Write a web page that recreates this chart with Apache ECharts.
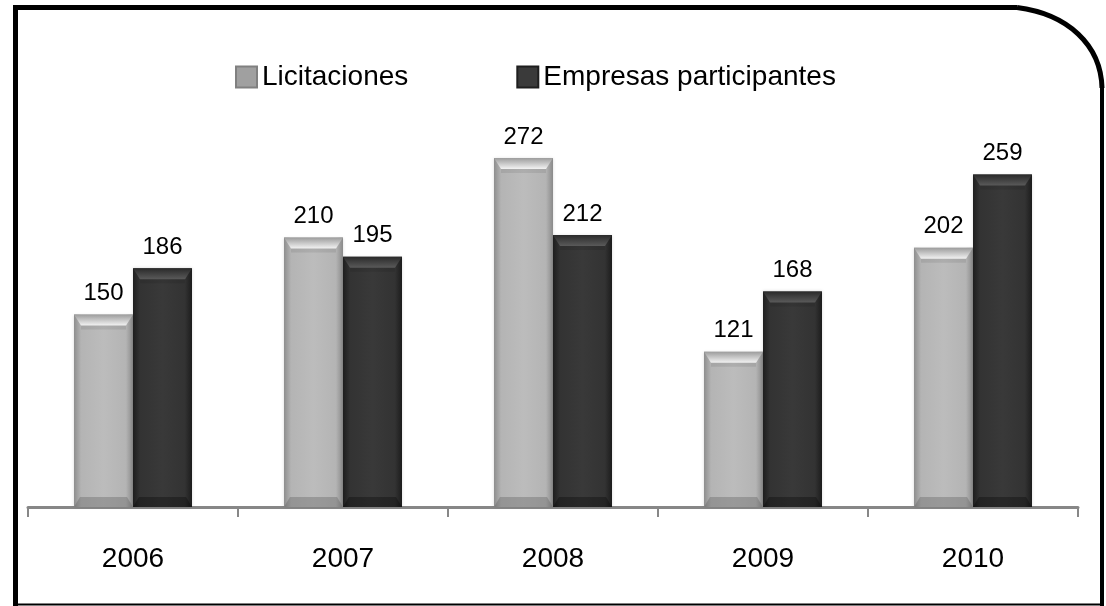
<!DOCTYPE html>
<html>
<head>
<meta charset="utf-8">
<script src="https://cdn.jsdelivr.net/npm/echarts@6/dist/echarts.min.js"></script>
<style>html,body{margin:0;padding:0;background:#fff}#c{width:1106px;height:606px}</style>
</head>
<body>
<div id="c"></div>
<script>
const categories = ['2006', '2007', '2008', '2009', '2010'];
const seriesNames = ['Licitaciones', 'Empresas participantes'];
const licitaciones = [150, 210, 272, 121, 202];
const empresas = [186, 195, 212, 168, 259];

const BAR_W = 59;
const FONT = '"Liberation Sans", Arial, sans-serif';

const lightGrad = new echarts.graphic.LinearGradient(0, 0, 1, 0, [
  {offset: 0, color: '#8e8e8e'}, {offset: 0.12, color: '#b4b4b4'},
  {offset: 0.5, color: '#bcbcbc'}, {offset: 0.88, color: '#b4b4b4'}, {offset: 1, color: '#8a8a8a'}
]);
const darkGrad = new echarts.graphic.LinearGradient(0, 0, 1, 0, [
  {offset: 0, color: '#1e1e1e'}, {offset: 0.12, color: '#333333'},
  {offset: 0.5, color: '#393939'}, {offset: 0.88, color: '#333333'}, {offset: 1, color: '#1c1c1c'}
]);

function capSeries(values, sideIdx, capTop, capMid, baseCol) {
  return {
    type: 'custom',
    silent: true,
    z: 5,
    data: values.map((v, i) => [i, v]),
    renderItem: function (params, api) {
      const p = api.coord([api.value(0), api.value(1)]);
      const b = api.coord([api.value(0), 0]);
      const x0 = p[0] - BAR_W + sideIdx * BAR_W;
      const x1 = x0 + BAR_W;
      const t = p[1];
      const y0 = b[1];
      return {
        type: 'group',
        children: [
          {type: 'polygon', shape: {points: [[x0, t], [x1, t], [x1 - 7, t + 11], [x0 + 7, t + 11]]},
           style: {fill: new echarts.graphic.LinearGradient(0, 0, 0, 1, [
             {offset: 0, color: capTop}, {offset: 1, color: capMid}])}},
          {type: 'polygon', shape: {points: [[x0 + 7, t + 11], [x1 - 7, t + 11], [x1 - 7, t + 15], [x0 + 7, t + 15]]},
           style: {fill: 'rgba(0,0,0,0.08)'}},
          {type: 'polygon', shape: {points: [[x0 + 6, y0 - 10], [x1 - 6, y0 - 10], [x1, y0], [x0, y0]]},
           style: {fill: baseCol}}
        ]
      };
    }
  };
}

const chart = echarts.init(document.getElementById('c'));
chart.setOption({
  backgroundColor: '#ffffff',
  animation: false,
  legend: {
    data: [
      {name: seriesNames[0], icon: 'rect', itemStyle: {color: '#a0a0a0', borderColor: '#808080', borderWidth: 2}},
      {name: seriesNames[1], icon: 'rect', itemStyle: {color: '#3a3a3a', borderColor: '#1e1e1e', borderWidth: 2}}
    ],
    left: 230,
    top: 58,
    itemWidth: 21,
    itemHeight: 21,
    itemGap: 108,
    textStyle: {fontFamily: FONT, fontSize: 28, color: '#000'}
  },
  grid: {left: 28, right: 28, top: 122, bottom: 99},
  xAxis: {
    type: 'category',
    data: categories,
    axisLine: {lineStyle: {color: '#878787', width: 3}},
    axisTick: {show: true, length: 10, lineStyle: {color: '#878787', width: 2}},
    axisLabel: {fontFamily: FONT, fontSize: 28, color: '#000', margin: 38}
  },
  yAxis: {type: 'value', min: 0, max: 300, show: false, splitLine: {show: false}},
  series: [
    {
      name: seriesNames[0], type: 'bar', data: licitaciones, barWidth: BAR_W, barGap: '0%',
      itemStyle: {color: lightGrad, shadowColor: 'rgba(0,0,0,0.15)', shadowBlur: 3},
      label: {show: true, position: 'top', distance: 9, fontFamily: FONT, fontSize: 24, color: '#000'}
    },
    {
      name: seriesNames[1], type: 'bar', data: empresas, barWidth: BAR_W, barGap: '0%',
      itemStyle: {color: darkGrad, shadowColor: 'rgba(0,0,0,0.15)', shadowBlur: 3},
      label: {show: true, position: 'top', distance: 9, fontFamily: FONT, fontSize: 24, color: '#000'}
    },
    capSeries(licitaciones, 0, '#9c9c9c', '#f2f2f2', 'rgba(90,90,90,0.35)'),
    capSeries(empresas, 1, '#2a2a2a', '#5a5a5a', 'rgba(0,0,0,0.3)')
  ],
  graphic: [
    {type: 'line', shape: {x1: 15.5, y1: 5, x2: 15.5, y2: 606}, style: {stroke: '#000', lineWidth: 5}},
    {type: 'line', shape: {x1: 13, y1: 7.5, x2: 1017, y2: 7.5}, style: {stroke: '#000', lineWidth: 5}},
    {type: 'bezierCurve', shape: {x1: 1017, y1: 7.5, cpx1: 1068, cpy1: 14, cpx2: 1101, cpy2: 45, x2: 1102, y2: 88},
     style: {stroke: '#000', lineWidth: 5, fill: null}},
    {type: 'line', shape: {x1: 1102, y1: 86, x2: 1102, y2: 606}, style: {stroke: '#000', lineWidth: 4}},
    {type: 'line', shape: {x1: 14, y1: 604.5, x2: 1104, y2: 604.5}, style: {stroke: '#000', lineWidth: 2}}
  ]
});
</script>
</body>
</html>
